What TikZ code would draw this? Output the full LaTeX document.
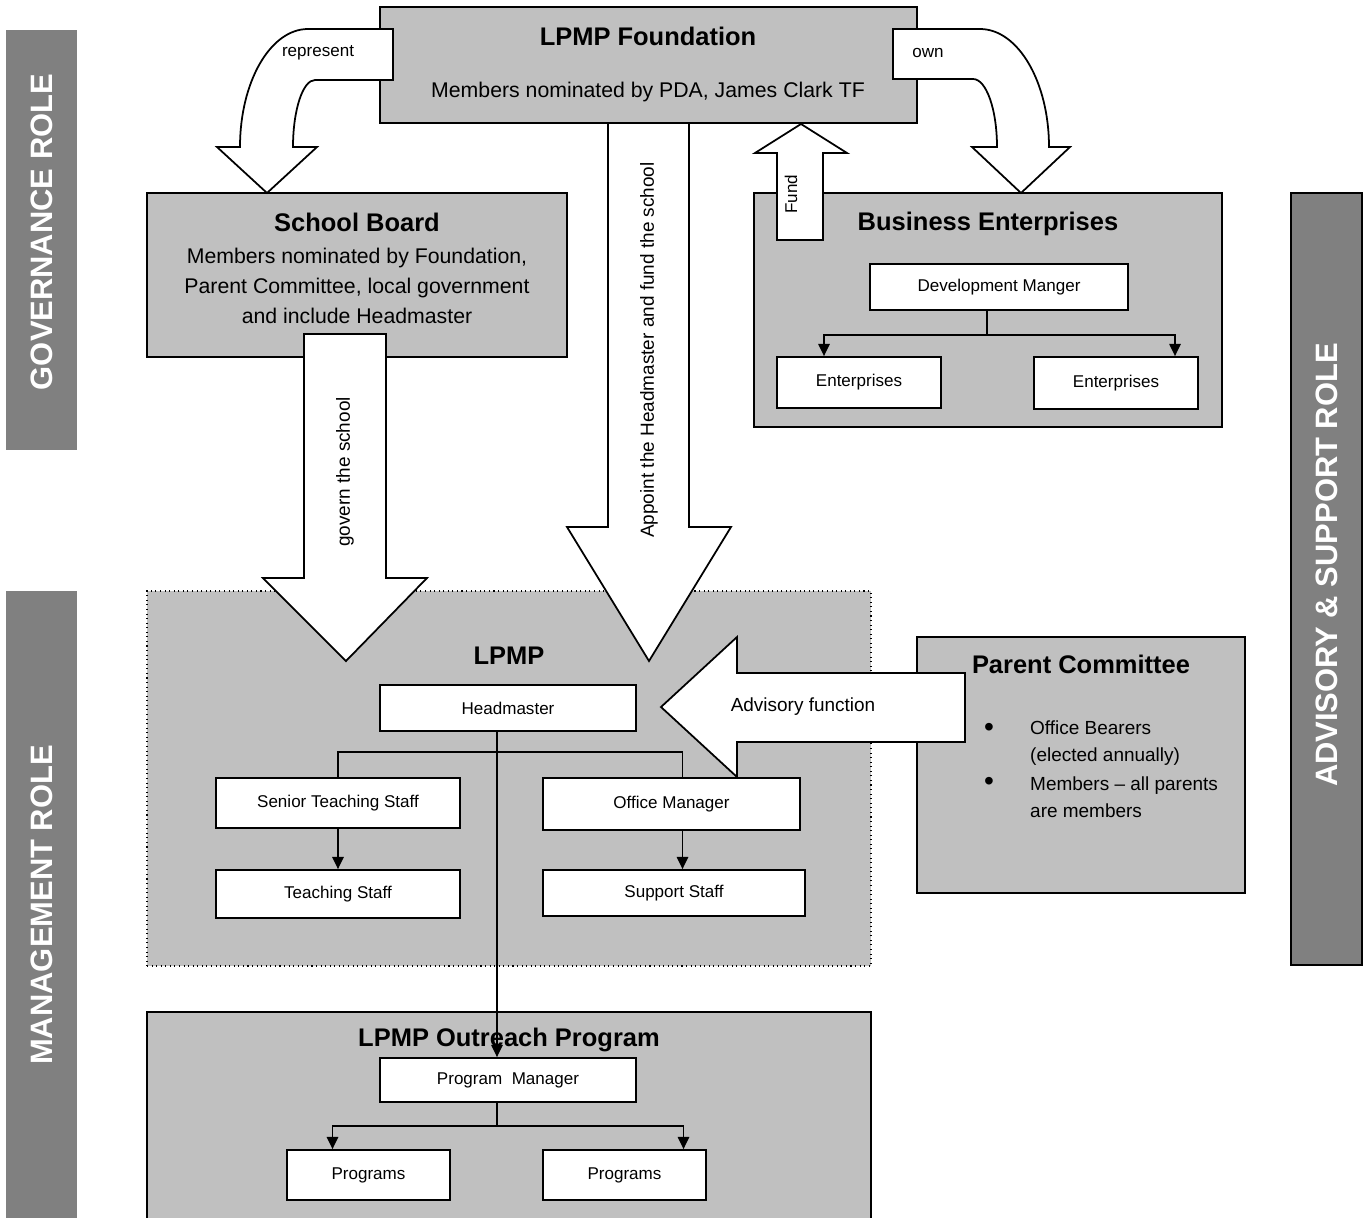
\documentclass[tikz,border=0pt]{standalone}
\usepackage{fontspec}
\setmainfont{Liberation Sans}
\usepackage{tikz}
\usetikzlibrary{calc, arrows.meta}

\definecolor{boxgray}{HTML}{C0C0C0}
\definecolor{rolegray}{HTML}{808080}

\tikzset{
  wh/.style 2 args={minimum width=#1*0.02cm, minimum height=#2*0.02cm, inner sep=0pt},
  panel/.style={draw, fill=boxgray, line width=1pt},
  unitbox/.style={draw, fill=white, line width=1pt, font=\fontsize{9.7}{11}\selectfont},
  heading/.style={font=\fontsize{14.5}{17}\selectfont\bfseries},
  body/.style={font=\fontsize{12.1}{17.1}\selectfont, align=center},
  blockarrow/.style={draw, fill=white, line width=1pt, line join=miter},
  arrowtext/.style={font=\fontsize{10.8}{13}\selectfont},
  smalltext/.style={font=\fontsize{9.7}{11}\selectfont},
  bullet/.style={font=\fontsize{16}{16}\selectfont},
  roletext/.style={font=\fontsize{17.6}{20}\selectfont\bfseries, text=white, rotate=90},
  line/.style={line width=1pt},
  link/.style={line width=1pt, -{Triangle[length=7pt,width=6.5pt]}}
}

\begin{document}
\begin{tikzpicture}[x=0.02cm, y=-0.02cm]
  \clip (0,0) rectangle (1367,1218);

  % role bars
  \fill[rolegray] (6,30) rectangle (77,450);
  \node[roletext] (govrole) at (42,232) {GOVERNANCE ROLE};
  \fill[rolegray] (6,591) rectangle (77,1240);
  \node[roletext] (mgtrole) at (42,905) {MANAGEMENT ROLE};
  \filldraw[fill=rolegray, line width=0.8pt] (1291,193) rectangle (1362,965);
  \node[roletext] (advrole) at (1327,565) {ADVISORY \& SUPPORT ROLE};

  % foundation
  \node[panel, wh={537}{116}] (found) at (648.5,65) {};
  \node[heading] at (648,36) {LPMP Foundation};
  \node[body] at (648,92) {Members nominated by PDA, James Clark TF};

  % school board
  \node[panel, wh={420}{164}] (board) at (357,275) {};
  \node[heading] at (357,222) {School Board};
  \node[body] at (357,286) {Members nominated by Foundation,\\Parent Committee, local government\\and include Headmaster};

  % business enterprises
  \node[panel, wh={468}{234}] (biz) at (988,310) {};
  \node[heading] at (988,224) {Business Enterprises};
  \node[unitbox, wh={258}{46}] (dm) at (999,287) {Development Manger};
  \node[unitbox, wh={164}{51}] (ent1) at (859,382.5) {Enterprises};
  \node[unitbox, wh={164}{52}] (ent2) at (1116,383) {Enterprises};
  \coordinate (dmx) at ($(dm.south)+(-12,0)$);
  \coordinate (dmj) at ($(dmx)+(0,24)$);
  \draw[line] (dmx) -- (dmj);
  \draw[link] (dmj) -| ($(ent1.north)+(-35,0)$);
  \draw[link] (dmj) -| ($(ent2.north)+(59,0)$);

  % LPMP school
  \node[panel, wh={724}{375}, line width=0.6pt, dotted] (lpmp) at (509,778.5) {};
  \node[heading] at (509,656) {LPMP};
  \node[unitbox, wh={256}{46}] (head) at (508,708) {Headmaster};
  \node[unitbox, wh={244}{50}] (sts) at (338,803) {Senior Teaching Staff};
  \node[unitbox, wh={257}{52}] (om) at (671.5,804) {Office Manager};
  \node[unitbox, wh={244}{48}] (ts) at (338,894) {Teaching Staff};
  \node[unitbox, wh={262}{46}] (ss) at (674,893) {Support Staff};
  \draw[line] (sts.north) |- ($(om.north)+(11,-25)$) -- ($(om.north)+(11,0)$);
  \draw[link] (sts.south) -- (ts.north);
  \coordinate (omx) at ($(om.south)+(11,0)$);
  \draw[link] (omx) -- (omx |- ss.north);

  % parent committee
  \node[panel, wh={328}{256}] (parent) at (1081,765) {};
  \node[heading] at (1081,664) {Parent Committee};
  \node[bullet] at (989,730) {•};
  \node[bullet] at (989,784) {•};
  \node[arrowtext, anchor=west, align=left, font=\fontsize{10.8}{15.4}\selectfont] at (1024,743) {Office Bearers\\(elected annually)};
  \node[arrowtext, anchor=west, align=left, font=\fontsize{10.8}{15.4}\selectfont] at (1024,797) {Members -- all parents\\are members};

  % outreach
  \node[panel, wh={724}{240}] (outreach) at (509,1132) {};
  \node[heading] at (509,1040) {LPMP Outreach Program};
  \node[unitbox, wh={256}{44}] (pm) at (508,1080) {Program\ \ Manager};
  \node[unitbox, wh={163}{50}] (prog1) at (368.5,1175) {Programs};
  \node[unitbox, wh={163}{50}] (prog2) at (624.5,1175) {Programs};
  \coordinate (pmx) at ($(pm.south)+(-11,0)$);
  \coordinate (pmj) at ($(pmx)+(0,23)$);
  \draw[line] (pmx) -- (pmj);
  \draw[link] (pmj) -| ($(prog1.north)+(-36,0)$);
  \draw[link] (pmj) -| ($(prog2.north)+(59,0)$);

  % headmaster to program manager
  \coordinate (hmx) at ($(head.south)+(-11,0)$);
  \draw[link] (hmx) -- (hmx |- pm.north);

  % block arrows
  \draw[blockarrow] (393,29) -- (308,29) .. controls (270.4,29) and (240,81.8) .. (240,147)
    -- (217,147) -- (267,193) -- (317,147) -- (293,147)
    .. controls (293,110) and (302.8,80) .. (315,80) -- (393,80) -- cycle;
  \node[smalltext] at (318,53) {represent};

  \draw[blockarrow] (893,29) -- (980,29) .. controls (1018,29) and (1049,81.8) .. (1049,147)
    -- (1070,147) -- (1021,193) -- (972,147) -- (997,147)
    .. controls (997,109.4) and (986.3,79) .. (973,79) -- (893,79) -- cycle;
  \node[smalltext] at (928,53) {own};

  \draw[blockarrow] (777,240) -- (777,153) -- (755,153) -- (801,124) -- (847,153)
    -- (823,153) -- (823,240) -- cycle;
  \node[smalltext, rotate=90] at (791,194) {Fund};

  \draw[blockarrow] (304,334) -- (386,334) -- (386,578) -- (427,578) -- (346,661)
    -- (263,578) -- (304,578) -- cycle;
  \node[arrowtext, rotate=90] at (345,472) {govern the school};

  \draw[blockarrow] (608,123) -- (689,123) -- (689,527) -- (731,527) -- (649,661)
    -- (567,527) -- (608,527) -- cycle;
  \node[arrowtext, rotate=90] at (649,350) {Appoint the Headmaster and fund the school};

  \draw[blockarrow] (965,673) -- (737,673) -- (737,637) -- (661,707) -- (737,777)
    -- (737,742) -- (965,742) -- cycle;
  \node[arrowtext] at (803,707) {Advisory function};
\end{tikzpicture}
\end{document}
